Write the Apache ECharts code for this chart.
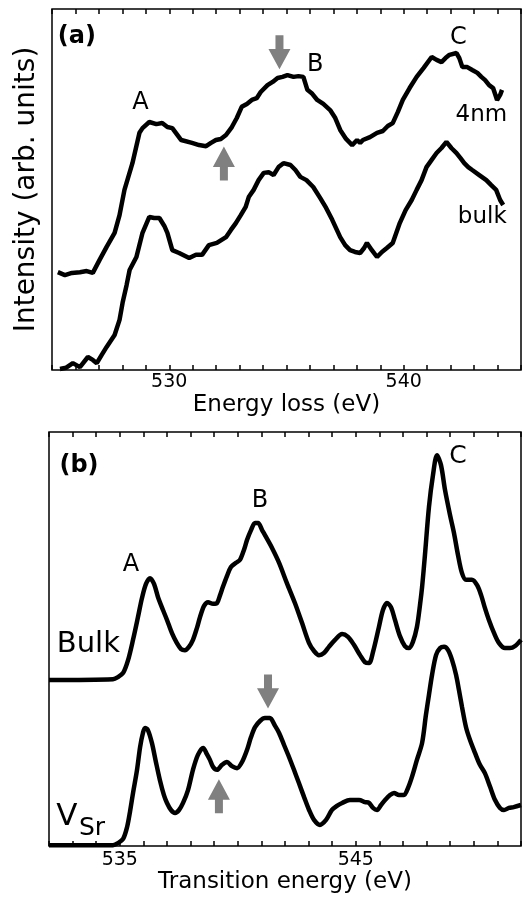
<!DOCTYPE html>
<html lang="en">
<head>
<meta charset="UTF-8">
<title>EELS / XAS O K-edge</title>
<script src="https://cdn.jsdelivr.net/npm/echarts@6/dist/echarts.min.js"></script>
<style>
  html, body { margin: 0; padding: 0; background: #fff; }
  #chart { width: 524px; height: 900px; }
</style>
</head>
<body>
<div id="chart"></div>
<script>
// panel (a): energy loss (eV) vs intensity (arb. units, 0-100)
var aX4nm = [525.25,525.55,525.85,526.19,526.48,526.74,527.03,527.33,527.67,527.88,528.09,528.43,528.73,528.86,529.15,529.45,529.70,529.92,530.13,530.51,530.97,531.27,531.57,531.78,531.99,532.20,532.42,532.67,532.88,533.09,533.31,533.52,533.73,533.90,534.19,534.41,534.62,534.83,535.04,535.30,535.51,535.72,535.89,536.10,536.31,536.57,536.86,537.08,537.29,537.54,537.80,538.01,538.14,538.26,538.56,538.86,539.11,539.32,539.53,539.75,539.96,540.25,540.55,540.85,541.19,541.40,541.61,541.78,541.95,542.25,542.37,542.50,542.71,542.92,543.14,543.31,543.47,543.64,543.81,543.98,544.11,544.19];
var aY4nm = [27.1,26.3,26.9,27.1,27.4,26.9,30.5,34.1,38.0,42.9,49.9,57.3,65.7,67.0,68.7,68.1,68.4,67.3,67.0,63.7,62.9,62.3,62.0,62.9,63.7,64.0,65.1,67.3,69.8,72.9,73.7,74.8,75.3,77.0,78.9,79.8,80.9,81.2,81.7,81.2,81.4,81.2,77.6,76.5,74.8,73.7,72.0,69.8,66.5,64.0,62.3,63.7,62.9,63.7,64.5,65.7,66.2,67.6,68.4,71.5,74.8,78.1,81.2,83.7,86.7,85.9,85.3,86.4,87.3,87.8,86.4,83.9,83.9,83.1,82.3,81.2,80.3,78.9,78.1,74.8,76.2,77.6];
var aXBulk = [525.34,525.59,525.89,526.19,526.53,526.74,526.91,527.12,527.33,527.67,527.88,528.01,528.18,528.31,528.60,528.86,529.15,529.36,529.58,529.79,529.92,530.13,530.42,530.85,531.14,531.40,531.69,532.03,532.42,532.63,532.84,533.05,533.26,533.39,533.60,533.81,534.03,534.24,534.45,534.66,534.87,535.17,535.38,535.59,535.85,536.14,536.44,536.69,536.95,537.29,537.50,537.71,537.92,538.14,538.31,538.43,538.64,538.86,539.07,539.28,539.53,539.83,540.08,540.34,540.55,540.76,540.97,541.19,541.40,541.61,541.82,542.03,542.25,542.42,542.58,542.75,542.92,543.22,543.52,543.73,543.94,544.11,544.24];
var aYBulk = [0.3,0.6,1.9,0.8,3.6,2.8,1.9,4.2,6.4,9.7,13.9,18.6,23.5,27.7,31.3,38.0,42.4,42.1,42.1,39.9,38.0,33.2,32.4,31.0,31.9,31.9,34.6,35.2,36.8,38.8,40.7,42.9,45.2,47.9,49.9,52.6,54.6,54.8,54.0,56.2,57.3,56.8,55.4,53.5,52.6,50.7,47.6,44.9,41.6,36.8,34.6,33.2,32.7,32.4,33.8,35.2,33.2,31.3,32.7,33.8,35.2,40.7,44.3,47.1,49.9,52.6,56.2,58.2,60.1,61.5,63.2,61.5,60.1,58.7,57.3,56.2,55.4,54.0,52.6,51.2,49.9,47.1,45.7];

// panel (b): transition energy (eV) vs intensity (arb. units, 0-100)
var bXBulk = [532.00,534.71,534.92,535.14,535.35,535.56,535.77,535.94,536.11,536.28,536.45,536.62,536.83,537.00,537.21,537.42,537.59,537.76,537.93,538.10,538.27,538.40,538.57,538.74,538.95,539.12,539.25,539.37,539.54,539.71,539.92,540.09,540.26,540.39,540.56,540.73,540.86,541.03,541.15,541.45,541.75,542.08,542.42,542.72,543.02,543.23,543.44,543.65,543.86,544.12,544.42,544.67,544.92,545.18,545.39,545.56,545.73,545.98,546.15,546.32,546.49,546.66,546.87,547.08,547.25,547.42,547.59,547.72,547.81,547.93,548.10,548.27,548.44,548.61,548.78,548.99,549.16,549.33,549.50,549.67,549.92,550.14,550.31,550.47,550.64,550.86,551.07,551.32,551.53,551.75,552.00];
var bYBulk = [40.1,40.3,40.8,41.8,44.9,49.8,55.3,59.9,63.3,64.7,63.3,60.1,57.0,54.6,51.4,49.0,47.6,47.3,48.1,49.8,52.7,55.3,58.0,58.9,58.5,58.7,60.6,62.6,65.2,67.4,68.4,69.1,71.5,73.9,76.3,78.0,78.0,76.3,75.1,72.0,68.4,63.5,58.7,53.9,49.0,47.1,46.1,46.6,48.1,49.8,51.2,50.5,48.6,46.1,44.4,44.2,46.9,52.9,57.0,58.7,57.7,54.6,50.7,48.3,47.8,49.3,52.9,58.2,62.6,70.3,81.9,89.6,94.4,92.0,86.0,80.0,75.6,70.3,65.9,64.3,64.3,63.0,60.6,57.5,54.6,51.4,49.0,47.8,47.8,48.3,49.8];
var bXVsr = [532.00,534.71,534.92,535.14,535.31,535.43,535.56,535.73,535.86,535.98,536.07,536.19,536.36,536.53,536.70,536.87,537.00,537.17,537.34,537.51,537.68,537.89,538.10,538.31,538.53,538.69,538.82,538.95,539.12,539.33,539.54,539.75,539.97,540.18,540.39,540.56,540.73,540.94,541.15,541.36,541.58,541.75,541.96,542.17,542.38,542.59,542.81,543.02,543.23,543.48,543.74,543.99,544.20,544.42,544.75,545.14,545.39,545.56,545.73,545.90,546.07,546.24,546.45,546.62,546.83,547.04,547.21,547.38,547.59,547.81,547.97,548.10,548.23,548.40,548.57,548.74,548.91,549.08,549.25,549.37,549.50,549.67,549.84,550.05,550.26,550.47,550.69,550.90,551.11,551.28,551.49,551.69,552.00];
var bYVsr = [0.2,0.2,0.7,1.7,4.6,8.2,12.8,18.4,23.9,27.3,28.5,28.0,24.9,20.3,15.9,12.3,10.4,8.7,8.0,8.7,10.4,13.5,18.4,22.0,23.7,22.2,20.8,19.1,18.4,19.6,20.3,19.3,18.8,20.3,23.2,26.3,28.7,30.2,30.9,30.9,29.0,27.3,24.4,21.5,18.4,15.2,11.8,8.7,6.3,5.1,6.3,8.7,9.7,10.4,11.1,11.1,10.6,10.4,9.2,8.7,9.9,11.1,12.3,12.8,12.3,12.3,14.0,16.7,20.8,24.9,31.6,36.5,41.3,46.1,47.8,48.1,47.3,44.9,41.3,37.7,33.6,28.7,25.6,22.5,19.6,17.6,14.3,11.1,9.2,8.7,9.2,9.4,9.9];

var aTickLabels = [530, 540];
var bTickLabels = [535, 545];

var FONT = 'DejaVu Sans';
var GRAY = '#808080';
var ARROW = 'path://M11,0 L22,21 L15,21 L15,35 L7,35 L7,21 L0,21 Z';

function zip(xs, ys) {
    var out = [];
    for (var i = 0; i < xs.length; i++) out.push([xs[i], ys[i]]);
    return out;
}

// text annotation placed in data coordinates
function note(text, x, y, size, bold) {
    return {
        coord: [x, y], symbol: 'circle', symbolSize: 1,
        itemStyle: { color: 'rgba(0,0,0,0)' },
        label: { show: true, position: 'inside', formatter: text, color: '#000',
                 fontFamily: FONT, fontSize: size, fontWeight: bold ? 'bold' : 'normal' }
    };
}
function arrow(x, y, down) {
    return {
        coord: [x, y], symbol: ARROW, symbolSize: [22, 34], symbolRotate: down ? 180 : 0,
        itemStyle: { color: GRAY }, label: { show: false }
    };
}

function xAxes(grid, min, max, labels, margin, name, gap) {
    return [{
        type: 'value', gridIndex: grid, min: min, max: max, interval: 1,
        name: name, nameLocation: 'middle', nameGap: gap,
        nameTextStyle: { fontFamily: FONT, fontSize: 23, color: '#000' },
        axisLine: { show: false },
        axisTick: { inside: true, length: 5, lineStyle: { color: '#000', width: 1.5 } },
        axisLabel: { margin: margin, fontFamily: FONT, fontSize: 19, color: '#000',
                     formatter: function (v) { return labels.indexOf(v) >= 0 ? String(v) : ''; } },
        splitLine: { show: false }
    }, {
        type: 'value', gridIndex: grid, position: 'top', min: min, max: max, interval: 1,
        axisLine: { show: false },
        axisTick: { inside: true, length: 5, lineStyle: { color: '#000', width: 1.5 } },
        axisLabel: { show: false }, splitLine: { show: false }
    }];
}

var lineStyle = { color: '#000', width: 4.5 };

var chart = echarts.init(document.getElementById('chart'), null, { renderer: 'canvas' });
chart.setOption({
    backgroundColor: '#fff',
    animation: false,
    grid: [
        { left: 52, top: 9, right: 1, height: 361, show: true, borderColor: '#000', borderWidth: 1.5 },
        { left: 49, top: 432, right: 3, height: 414, show: true, borderColor: '#000', borderWidth: 1.5 }
    ],
    xAxis: xAxes(0, 525, 545, aTickLabels, 3, 'Energy loss (eV)', 24)
        .concat(xAxes(1, 532, 552, bTickLabels, 5, 'Transition energy (eV)', 25)),
    yAxis: [
        { type: 'value', gridIndex: 0, min: 0, max: 100,
          name: 'Intensity (arb. units)', nameLocation: 'middle', nameGap: 11,
          nameTextStyle: { fontFamily: FONT, fontSize: 28, color: '#000' },
          axisLine: { show: false }, axisTick: { show: false }, axisLabel: { show: false },
          splitLine: { show: false } },
        { type: 'value', gridIndex: 1, min: 0, max: 100,
          axisLine: { show: false }, axisTick: { show: false }, axisLabel: { show: false },
          splitLine: { show: false } }
    ],
    series: [
        { name: '4nm', type: 'line', xAxisIndex: 0, yAxisIndex: 0, data: zip(aX4nm, aY4nm),
          showSymbol: false, clip: false, lineStyle: lineStyle,
          markPoint: { data: [
              note('(a)', 526.06, 92.2, 24, true),
              note('A', 528.77, 74.0, 24),
              note('B', 536.23, 84.5, 24),
              note('C', 542.33, 92.0, 24),
              note('4nm', 543.31, 70.6, 23),
              arrow(534.70, 88.0, true),
              arrow(532.33, 57.2, false)
          ] } },
        { name: 'bulk', type: 'line', xAxisIndex: 0, yAxisIndex: 0, data: zip(aXBulk, aYBulk),
          showSymbol: false, clip: false, lineStyle: lineStyle,
          markPoint: { data: [ note('bulk', 543.35, 42.4, 23) ] } },
        { name: 'Bulk', type: 'line', xAxisIndex: 2, yAxisIndex: 1, data: zip(bXBulk, bYBulk),
          showSymbol: false, clip: false, smooth: 0.3, lineStyle: lineStyle,
          markPoint: { data: [
              note('(b)', 533.27, 91.8, 24, true),
              note('A', 535.47, 67.9, 24),
              note('B', 540.94, 83.3, 24),
              note('C', 549.33, 94.0, 25),
              note('Bulk', 533.67, 48.6, 29)
          ] } },
        { name: 'VSr', type: 'line', xAxisIndex: 2, yAxisIndex: 1, data: zip(bXVsr, bYVsr),
          showSymbol: false, clip: false, smooth: 0.3, lineStyle: lineStyle,
          markPoint: { data: [
              note('V', 532.76, 7.0, 31),
              note('Sr', 533.82, 4.3, 25),
              arrow(539.20, 12.0, false),
              arrow(541.28, 37.3, true)
          ] } }
    ]
});
</script>
</body>
</html>
